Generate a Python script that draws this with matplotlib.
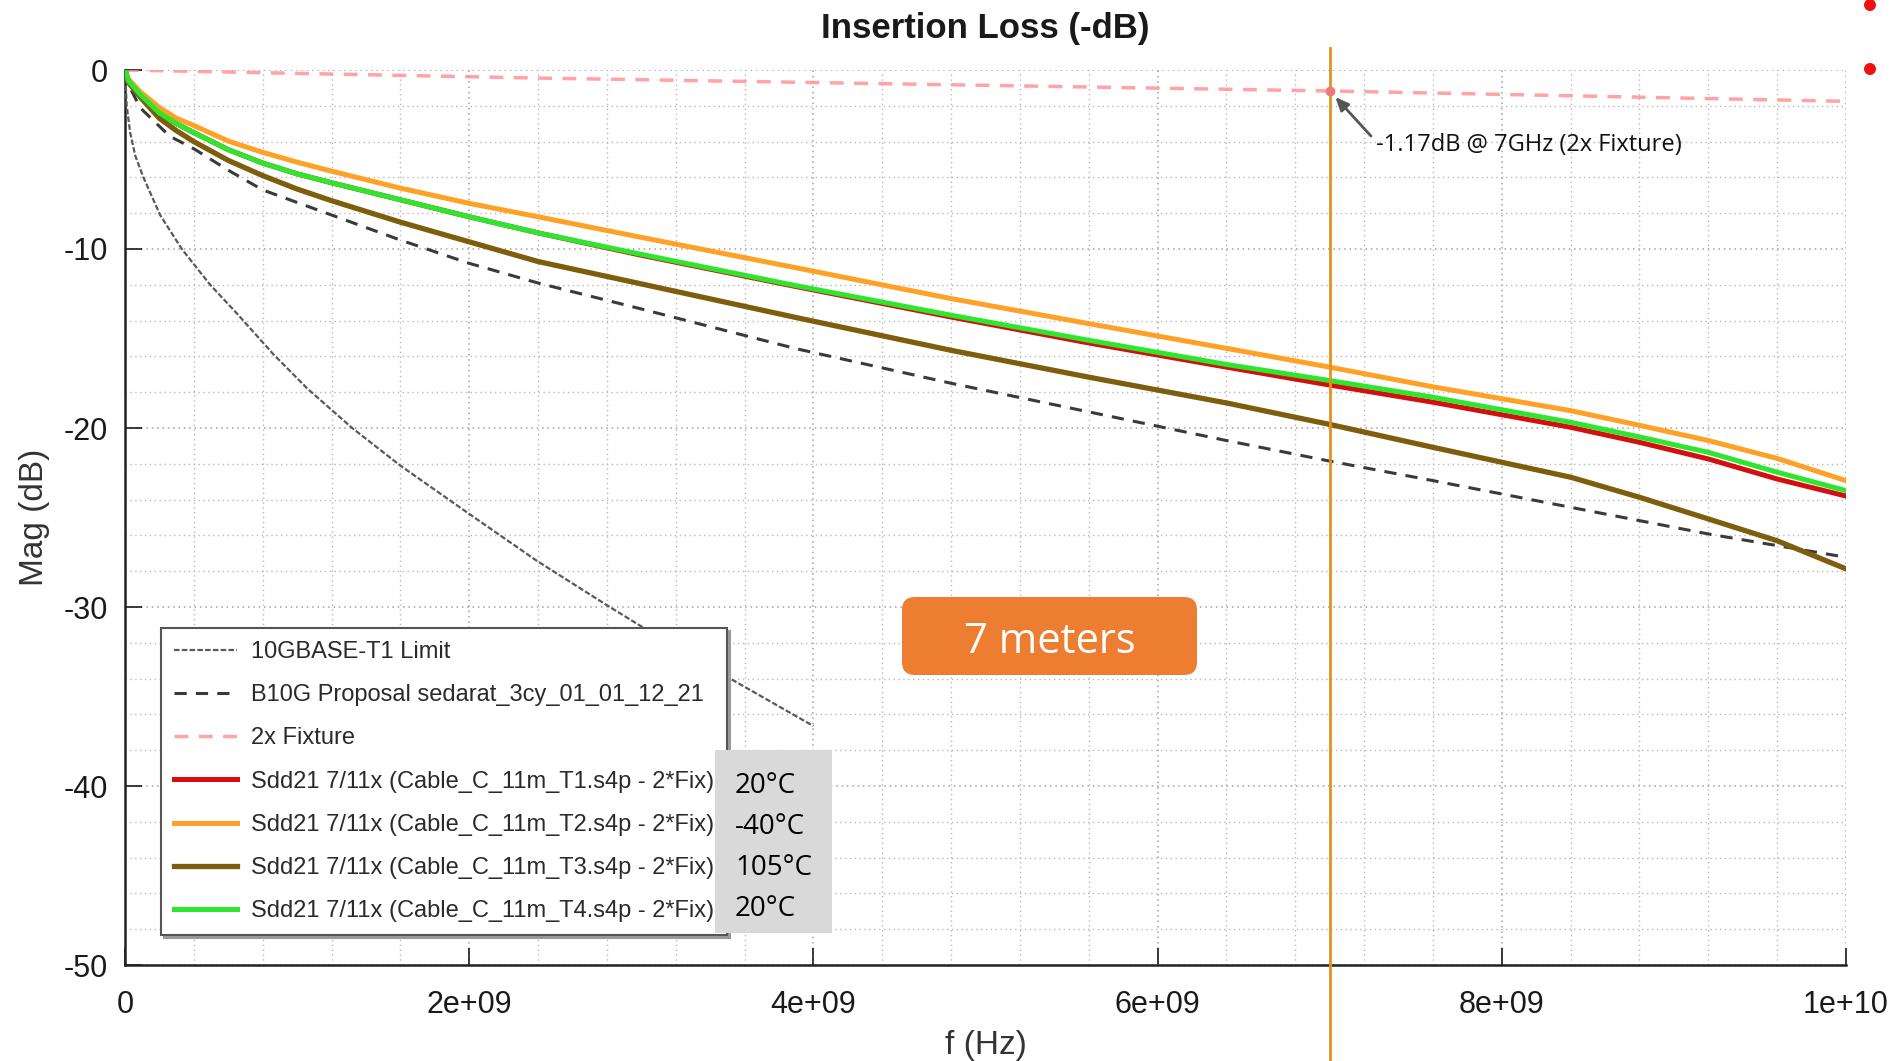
import matplotlib
matplotlib.use("Agg")
import matplotlib.pyplot as plt
import matplotlib.transforms as mtransforms
from matplotlib.patches import FancyBboxPatch, Rectangle, Circle
import numpy as np

# --- data (frequency in GHz, magnitude in dB) ---
limit_f = [0, 0.01, 0.03, 0.06, 0.107, 0.204, 0.33, 0.495, 0.65, 0.864, 1.06,
           1.32, 1.6, 2.0, 2.39, 2.8, 3.02, 3.48, 4.0]
limit_db = [0, -2.0, -3.5, -4.8, -6.0, -8.1, -10.0, -12.0, -13.6, -15.9, -17.8,
            -20.0, -22.1, -24.8, -27.4, -29.9, -31.2, -33.8, -36.65]

b10g_f = [0, 0.02, 0.087, 0.26, 0.4, 0.6, 0.8, 1.2, 1.6, 2.0, 2.4, 3.0, 3.9, 4.8,
          5.6, 6.4, 7.0, 7.6, 8.4, 9.2, 10.0]
b10g_db = [0, -0.8, -2.1, -3.7, -4.4, -5.6, -6.7, -8.1, -9.5, -10.8, -11.9, -13.35,
           -15.57, -17.5, -19.1, -20.7, -21.85, -22.94, -24.43, -25.92, -27.22]

fix_f = [0, 2.4, 4.0, 7.0, 10.0]
fix_db = [0, -0.45, -0.7, -1.17, -1.75]

sdd_f = [0, 0.02, 0.087, 0.2, 0.3, 0.4, 0.6, 0.8, 1.0, 1.2, 1.6, 2.0, 2.4, 3.0, 3.9,
         4.8, 5.6, 6.4, 7.0, 7.6, 8.4, 8.8, 9.2, 9.6, 10.0]
t1_db = [0, -0.6, -1.35, -2.4, -3.0, -3.5, -4.45, -5.2, -5.8, -6.3, -7.25, -8.2, -9.1,
         -10.35, -12.1, -13.8, -15.25, -16.6, -17.6, -18.56, -19.96, -20.8, -21.73,
         -22.85, -23.8]
t2_db = [0, -0.5, -1.2, -2.1, -2.7, -3.1, -3.97, -4.6, -5.15, -5.65, -6.6, -7.45, -8.2,
         -9.35, -11.05, -12.77, -14.17, -15.55, -16.6, -17.7, -19.03, -19.85, -20.7,
         -21.7, -22.94]
t3_db = [0, -0.7, -1.5, -2.7, -3.4, -4.0, -5.05, -5.9, -6.65, -7.3, -8.5, -9.6, -10.7,
         -11.95, -13.83, -15.66, -17.16, -18.6, -19.8, -21.08, -22.75, -23.87, -25.08,
         -26.3, -27.87]
t4_db = [0, -0.6, -1.35, -2.4, -3.0, -3.5, -4.45, -5.2, -5.8, -6.3, -7.25, -8.2, -9.1,
         -10.3, -12.05, -13.7, -15.1, -16.45, -17.35, -18.28, -19.68, -20.5, -21.36,
         -22.47, -23.5]

labels = ["10GBASE-T1 Limit",
          "B10G Proposal sedarat_3cy_01_01_12_21",
          "2x Fixture",
          "Sdd21 7/11x (Cable_C_11m_T1.s4p - 2*Fix)",
          "Sdd21 7/11x (Cable_C_11m_T2.s4p - 2*Fix)",
          "Sdd21 7/11x (Cable_C_11m_T3.s4p - 2*Fix)",
          "Sdd21 7/11x (Cable_C_11m_T4.s4p - 2*Fix)"]
temps = ["20°C", "-40°C", "105°C", "20°C"]
xticks = [0, 2e9, 4e9, 6e9, 8e9, 1e10]
xtick_labels = ["0", "2e+09", "4e+09", "6e+09", "8e+09", "1e+10"]
marker_f = 7.0
marker_db = -1.17

GHZ = 1e9
plt.rcParams["font.family"] = ["Liberation Sans", "DejaVu Sans"]

fig = plt.figure(figsize=(18.98, 10.61), dpi=100)
ax = fig.add_axes([125 / 1898, 1 - 965 / 1061, (1846 - 125) / 1898, (965 - 70) / 1061])

hz = lambda v: np.array(v) * GHZ

ax.plot(hz(limit_f), limit_db, color="#5a5a5a", lw=1.6, dashes=(2.5, 1), label=labels[0], zorder=3)
ax.plot(hz(b10g_f), b10g_db, color="#3a3a3a", lw=2.2, dashes=(4, 3), label=labels[1], zorder=3)
ax.plot(hz(fix_f), fix_db, color="#ff8c8c", lw=2.5, dashes=(4, 3), alpha=0.8, label=labels[2], zorder=3)
ax.plot(hz(sdd_f), t1_db, color="#d40f0f", lw=3.6, label=labels[3], zorder=4)
ax.plot(hz(sdd_f), t2_db, color="#ffa126", lw=3.6, label=labels[4], zorder=4)
ax.plot(hz(sdd_f), t3_db, color="#7d5e0c", lw=3.8, label=labels[5], zorder=4)
ax.plot(hz(sdd_f), t4_db, color="#2fe62f", lw=3.6, label=labels[6], zorder=5)

ax.set_xlim(0, 1e10)
ax.set_ylim(-50, 0)
ax.set_xticks(xticks)
ax.set_xticklabels(xtick_labels)
ax.set_yticks([-50, -40, -30, -20, -10, 0])
ax.set_yticklabels(["-50", "-40", "-30", "-20", "-10", "0"])
ax.set_xticks(np.arange(0, 1e10 + 1, 4e8), minor=True)
ax.set_yticks(np.arange(-50, 1, 2), minor=True)
ax.tick_params(which="major", direction="in", length=12, width=1.2, labelsize=22,
               colors="#1a1a1a", top=False, right=False)
ax.tick_params(axis="x", which="major", pad=18)
ax.tick_params(axis="y", which="major", pad=12)
ax.tick_params(which="minor", length=0)
ax.grid(which="major", color="#a0a0a0", linestyle=(0, (1, 2.5)), lw=1.1)
ax.grid(which="minor", color="#b8b8b8", linestyle=(0, (1, 2.5)), lw=1.0)
for s in ["top", "right"]:
    ax.spines[s].set_visible(False)
for s in ["left", "bottom"]:
    ax.spines[s].set_linewidth(1.8)
    ax.spines[s].set_color("#222222")

ax.set_title("Insertion Loss (-dB)", fontsize=25, fontweight="bold", pad=23, color="#1a1a1a")
ax.set_xlabel("f (Hz)", fontsize=24, color="#333333", labelpad=7)
ax.set_ylabel("Mag (dB)", fontsize=24, color="#333333", labelpad=10)

# vertical 7 GHz marker, running past the axes
trans = mtransforms.blended_transform_factory(ax.transData, fig.transFigure)
ax.plot([7e9, 7e9], [0, 1 - 48 / 1061], color="#e8901c", lw=2.0, transform=trans,
        clip_on=False, zorder=6)

# fixture point at 7 GHz + annotation
ax.plot([marker_f * GHZ], [marker_db], "o", color="#f07878", ms=6, zorder=7, clip_on=False)
ax.annotate("", xy=(marker_f * GHZ, marker_db), xytext=(1371, 1061 - 136),
            textcoords="figure pixels",
            arrowprops=dict(arrowstyle="-|>,head_width=0.35,head_length=0.8",
                            color="#555555", lw=2, shrinkA=0, shrinkB=6))
fig.text(1376 / 1898, 1 - 145 / 1061, "-1.17dB @ 7GHz (2x Fixture)", fontsize=17,
         family="Open Sans", color="#111111", va="center", ha="left")

leg = ax.legend(loc="upper left", bbox_to_anchor=(161 / 1898, 1 - 628 / 1061),
                bbox_transform=fig.transFigure, borderaxespad=0,
                prop={"family": ["Liberation Sans"], "size": 17},
                handlelength=2.67, handletextpad=0.6, labelspacing=0.9, borderpad=0.55,
                fancybox=False, framealpha=1, edgecolor="#555555",
                shadow={"color": "#9a9a9a", "alpha": 1.0})
leg.get_frame().set_linewidth(1.5)
for t in leg.get_texts():
    t.set_color("#2a2a2a")

# grey box with temperatures
fig.patches.append(Rectangle((715 / 1898, 1 - 933 / 1061), 117 / 1898, 183 / 1061,
                             transform=fig.transFigure, facecolor="#d9d9d9",
                             edgecolor="none", zorder=10))
for i, t in enumerate(temps):
    fig.text(735 / 1898, 1 - (786 + i * 41) / 1061, t, fontsize=20, family="Open Sans",
             color="black", va="center", ha="left", zorder=11)

# "7 meters" callout
fig.patches.append(FancyBboxPatch((9.02, 3.86), 2.95, 0.78,
                                  boxstyle="round,pad=0,rounding_size=0.13",
                                  transform=fig.dpi_scale_trans, facecolor="#ed7d31",
                                  edgecolor="none", zorder=10))
fig.text(10.495, 4.19, "7 meters", transform=fig.dpi_scale_trans, fontsize=30,
         family="Open Sans", color="white", ha="center", va="center", zorder=11)

# red dots top right
for yy in (10.56, 9.92):
    fig.patches.append(Circle((18.70, yy), 0.06, transform=fig.dpi_scale_trans,
                              facecolor="#ee1111", edgecolor="none", zorder=10))

fig.savefig("out.png", dpi=100)
